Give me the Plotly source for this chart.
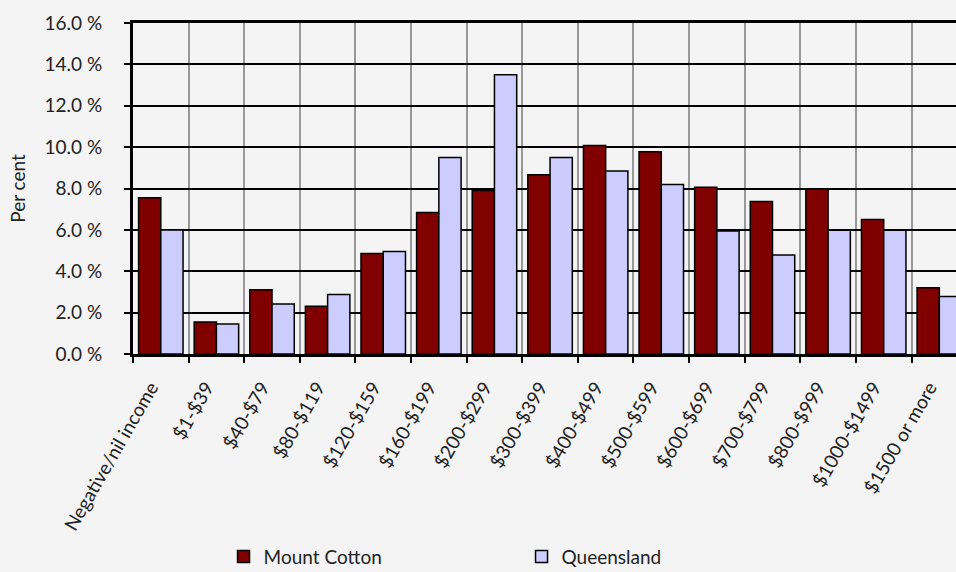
import plotly.graph_objects as go

categories = ["Negative/nil income", "$1-$39", "$40-$79", "$80-$119", "$120-$159",
              "$160-$199", "$200-$299", "$300-$399", "$400-$499", "$500-$599",
              "$600-$699", "$700-$799", "$800-$999", "$1000-$1499", "$1500 or more"]
mount_cotton = [7.55, 1.55, 3.1, 2.31, 4.86, 6.84, 7.9, 8.66, 10.08, 9.78,
                8.06, 7.37, 7.97, 6.5, 3.2]
queensland = [6.0, 1.45, 2.42, 2.88, 4.95, 9.5, 13.5, 9.5, 8.85, 8.19,
              5.95, 4.78, 5.98, 5.98, 2.78]
y_ticks = [0, 2, 4, 6, 8, 10, 12, 14, 16]
y_tick_labels = ["0.0 %", "2.0 %", "4.0 %", "6.0 %", "8.0 %", "10.0 %", "12.0 %", "14.0 %", "16.0 %"]

FONT = "Lato"
FS = 19
TXT = "#222222"
BG = "#f4f4f4"

fig = go.Figure()
fig.add_trace(go.Bar(name="Mount Cotton", x=categories, y=mount_cotton,
                     marker=dict(color="#800000", line=dict(color="black", width=1.5))))
fig.add_trace(go.Bar(name="Queensland", x=categories, y=queensland,
                     marker=dict(color="#ccccff", line=dict(color="black", width=1.5))))

fig.update_layout(
    width=956, height=572,
    margin=dict(l=133, r=0, t=23, b=218, autoexpand=False),
    paper_bgcolor=BG, plot_bgcolor=BG,
    barmode="group", bargap=0.2, bargroupgap=0,
    font=dict(family=FONT, size=FS, color=TXT),
    showlegend=True,
    legend=dict(orientation="h", x=0.11, xanchor="left", y=-0.555, yanchor="top",
                entrywidth=253, entrywidthmode="pixels",
                font=dict(family=FONT, size=FS, color=TXT),
                bgcolor="rgba(0,0,0,0)"),
)
fig.update_xaxes(
    type="category", range=[-0.5, 14.3], automargin=False,
    tickson="boundaries", ticks="outside", ticklen=6, tickwidth=2, tickcolor="black",
    showgrid=True, gridcolor="#999999", gridwidth=1.5,
    showline=True, linecolor="black", linewidth=3, mirror=True,
    tickangle=-60, ticklabelstandoff=12, ticklabelshift=-10,
    tickfont=dict(family=FONT, size=FS, color=TXT),
)
fig.update_yaxes(
    range=[0, 16], tickvals=y_ticks, ticktext=y_tick_labels, automargin=False,
    ticks="outside", ticklen=6, tickwidth=2, tickcolor="black",
    showgrid=True, gridcolor="black", gridwidth=2,
    showline=True, linecolor="black", linewidth=3, zeroline=False,
    ticklabelstandoff=18,
    title=dict(text="Per cent", font=dict(family=FONT, size=FS, color=TXT), standoff=14),
    tickfont=dict(family=FONT, size=FS, color=TXT),
)

fig.write_html("out.html", config={"displayModeBar": False},
               post_script="document.body.style.margin='0';")
